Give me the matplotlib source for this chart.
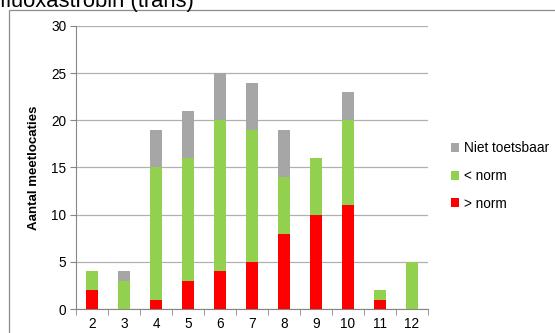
import matplotlib.pyplot as plt
from matplotlib.patches import Rectangle
import numpy as np

plt.rcParams['font.family'] = ['Liberation Sans', 'DejaVu Sans']

categories = ['2', '3', '4', '5', '6', '7', '8', '9', '10', '11', '12']
boven_norm = [2, 0, 1, 3, 4, 5, 8, 10, 11, 1, 0]
onder_norm = [2, 3, 14, 13, 16, 14, 6, 6, 9, 1, 5]
niet_toetsbaar = [0, 1, 4, 5, 5, 5, 5, 0, 3, 0, 0]

red = '#FF0000'
green = '#92D050'
grey = '#A6A6A6'

fig = plt.figure(figsize=(5.55, 3.33), dpi=100)
ax = fig.add_axes([0.137, 0.072, 0.634, 0.85])

# chart border running off the right and bottom edges
fig.patches.append(Rectangle((8.5 / 555, -0.1), 1.2, 1 - 10 / 333 + 0.1,
                             transform=fig.transFigure, fill=False,
                             edgecolor='#8c8c8c', linewidth=0.9))

fig.text(0.0, 1 - 7 / 333, 'fluoxastrobin (trans)', fontsize=15.8,
         ha='left', va='baseline')

x = np.arange(len(categories))
w = 0.4
b1 = np.array(boven_norm)
b2 = b1 + np.array(onder_norm)
ax.bar(x, boven_norm, w, color=red, label='> norm', zorder=3)
ax.bar(x, onder_norm, w, bottom=b1, color=green, label='< norm', zorder=3)
ax.bar(x, niet_toetsbaar, w, bottom=b2, color=grey, label='Niet toetsbaar', zorder=3)

ax.set_xlim(-0.5, len(categories) - 0.5)
ax.set_ylim(0, 30)
ax.set_yticks(range(0, 31, 5))
ax.set_xticks(x)
ax.set_xticklabels(categories)
ax.set_xticks(np.arange(-0.5, len(categories)), minor=True)
ax.tick_params(axis='x', which='major', length=0, labelsize=9.8, pad=6)
ax.tick_params(axis='x', which='minor', length=4, color='#868686', direction='out')
ax.tick_params(axis='y', length=4, color='#868686', labelsize=9.8, pad=3)
ax.yaxis.grid(True, color='#b0b0b0', linewidth=0.9, zorder=0)

for side in ['top', 'right']:
    ax.spines[side].set_visible(False)
for side in ['left', 'bottom']:
    ax.spines[side].set_color('#868686')

ax.set_ylabel('Aantal meetlocaties', fontsize=9.5, fontweight='bold', labelpad=8)

handles, labels = ax.get_legend_handles_labels()
ax.legend(handles[::-1], labels[::-1], loc='center left',
          bbox_to_anchor=(1.03, 0.47), frameon=False, fontsize=9.8,
          handlelength=0.6, handleheight=0.6, handletextpad=0.4,
          labelspacing=1.0)

fig.savefig('out.png', dpi=100)
